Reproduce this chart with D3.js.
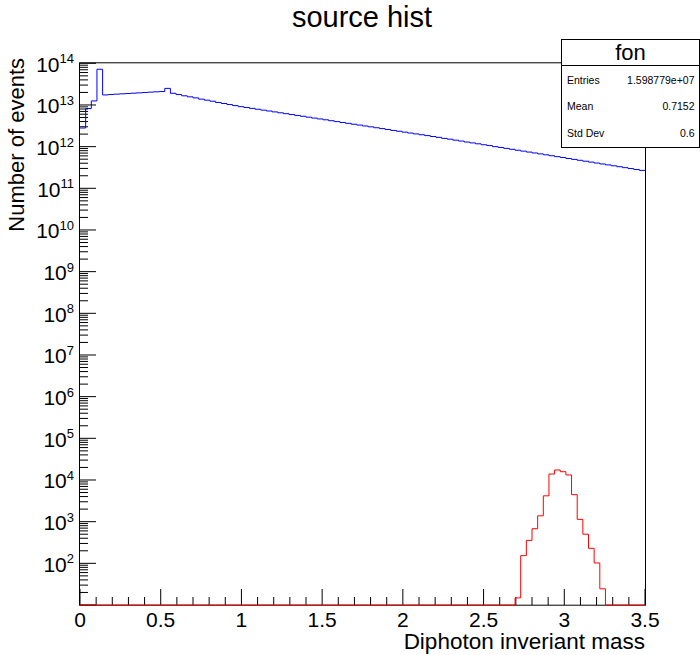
<!DOCTYPE html>
<html><head><meta charset="utf-8">
<script src="https://cdn.jsdelivr.net/npm/d3@7"></script>
<style>
body{margin:0;background:#fff}
svg{display:block}
text{font-family:"Liberation Sans",Arial,Helvetica,sans-serif;fill:#000}
</style>
</head><body>
<svg id="c" width="700" height="655"></svg>
<script>
// ---- data ----
const chartTitle = "source hist";
const xTitle = "Diphoton inveriant mass";
const yTitle = "Number of events";
const xMin = 0, xMax = 3.5, nBins = 100;
const yMin = 10, yMax = 1e14;
const blueCounts = [
  2.8e12, 8.2e12, 1.25e13, 7.2e13, 1.74e13, 1.78e13, 1.82e13, 1.85e13, 1.88e13, 1.92e13,
  1.95e13, 1.99e13, 2.03e13, 2.07e13, 2.10e13, 2.50e13, 1.905e13, 1.778e13, 1.66e13, 1.567e13,
  1.479e13, 1.38e13, 1.303e13, 1.23e13, 1.148e13, 1.084e13, 1.023e13, 9.66e12, 9.12e12, 8.69e12,
  8.28e12, 7.89e12, 7.52e12, 7.16e12, 6.82e12, 6.49e12, 6.18e12, 5.89e12, 5.61e12, 5.35e12,
  5.09e12, 4.85e12, 4.62e12, 4.41e12, 4.19e12, 3.99e12, 3.80e12, 3.62e12, 3.45e12, 3.29e12,
  3.13e12, 2.99e12, 2.84e12, 2.71e12, 2.58e12, 2.45e12, 2.34e12, 2.23e12, 2.12e12, 2.02e12,
  1.93e12, 1.84e12, 1.75e12, 1.67e12, 1.58e12, 1.51e12, 1.43e12, 1.36e12, 1.29e12, 1.23e12,
  1.17e12, 1.11e12, 1.06e12, 1.00e12, 9.55e11, 9.08e11, 8.63e11, 8.20e11, 7.80e11, 7.41e11,
  7.05e11, 6.70e11, 6.37e11, 6.05e11, 5.75e11, 5.47e11, 5.20e11, 4.94e11, 4.70e11, 4.47e11,
  4.25e11, 4.04e11, 3.84e11, 3.65e11, 3.47e11, 3.30e11, 3.13e11, 2.98e11, 2.83e11, 2.69e11
];
const redStartBin = 77;
const redCounts = [14.8, 153, 355, 676, 1380, 4170, 13900, 17400, 15800, 13200, 4440, 1135, 500, 229, 102, 24.5];
const xTickValues = [0, 0.5, 1, 1.5, 2, 2.5, 3, 3.5];
const xTickLabels = ["0", "0.5", "1", "1.5", "2", "2.5", "3", "3.5"];
const yDecadeExps = [2, 3, 4, 5, 6, 7, 8, 9, 10, 11, 12, 13, 14];
const statsName = "fon";
const statsLabels = ["Entries", "Mean", "Std Dev"];
const statsValues = ["1.598779e+07", "0.7152", "0.6"];

// ---- drawing ----
const svg = d3.select("#c");
const x = d3.scaleLinear().domain([xMin, xMax]).range([80, 645]);
const y = d3.scaleLog().domain([yMin, yMax]).range([605, 63.3]);
const bw = (xMax - xMin) / nBins;

// frame
svg.append("rect").attr("x", 79.5).attr("y", 62.8).attr("width", 566).attr("height", 542.4)
  .attr("fill", "none").attr("stroke", "#000").attr("stroke-width", 1);

// x ticks (inside, upward)
const xMinorTicks = d3.range(0, 36).map(i => i / 10);
svg.append("g").selectAll("line").data(xMinorTicks).join("line")
  .attr("x1", d => x(d)).attr("x2", d => x(d))
  .attr("y1", 605).attr("y2", d => (Math.abs(d * 2 - Math.round(d * 2)) < 1e-9) ? 589 : 597)
  .attr("stroke", "#000").attr("stroke-width", 1);
svg.append("g").selectAll("text").data(xTickValues).join("text")
  .attr("x", d => x(d)).attr("y", 626.5).attr("text-anchor", "middle")
  .attr("font-size", 21).text((d, i) => xTickLabels[i]);

// y ticks
const yTicks = [];
for (let e = 1; e <= 13; e++) {
  for (let k = 1; k <= 9; k++) yTicks.push({v: k * Math.pow(10, e), major: k === 1});
}
yTicks.push({v: 1e14, major: true});
svg.append("g").selectAll("line").data(yTicks).join("line")
  .attr("x1", 80).attr("x2", d => d.major ? 96 : 88)
  .attr("y1", d => y(d.v)).attr("y2", d => y(d.v))
  .attr("stroke", "#000").attr("stroke-width", 1);
const yl = svg.append("g").selectAll("text").data(yDecadeExps).join("text")
  .attr("x", 74).attr("y", d => y(Math.pow(10, d)) + 8.4).attr("text-anchor", "end");
yl.append("tspan").attr("font-size", 21).text("10");
yl.append("tspan").attr("font-size", 13).attr("dy", -8.4).text(d => String(d));

// histograms
function stepPoints(counts) {
  const pts = [];
  counts.forEach((v, i) => {
    const lo = xMin + i * bw, hi = lo + bw;
    const yy = y(Math.max(v, yMin));
    pts.push([x(lo), yy], [x(hi), yy]);
  });
  return pts;
}
const redFull = new Array(nBins).fill(0);
redCounts.forEach((v, i) => { redFull[redStartBin + i] = v; });
const line = d3.line();
svg.append("path").attr("d", line(stepPoints(redFull)))
  .attr("fill", "none").attr("stroke", "#ff0000").attr("stroke-width", 1);
svg.append("path").attr("d", line(stepPoints(blueCounts)))
  .attr("fill", "none").attr("stroke", "#0000ff").attr("stroke-width", 1);

// titles
svg.append("text").attr("x", 362).attr("y", 27).attr("text-anchor", "middle")
  .attr("font-size", 29).text(chartTitle);
svg.append("text").attr("x", 645).attr("y", 649).attr("text-anchor", "end")
  .attr("font-size", 22.5).text(xTitle);
svg.append("text").attr("transform", "translate(24,58) rotate(-90)")
  .attr("text-anchor", "end").attr("font-size", 22).text(yTitle);

// stats box
const sb = svg.append("g");
sb.append("rect").attr("x", 561.5).attr("y", 39.5).attr("width", 138).attr("height", 108)
  .attr("fill", "#fff").attr("stroke", "#000").attr("stroke-width", 1);
sb.append("line").attr("x1", 561.5).attr("x2", 699.5).attr("y1", 65.5).attr("y2", 65.5)
  .attr("stroke", "#000").attr("stroke-width", 1);
sb.append("text").attr("x", 630.5).attr("y", 60).attr("text-anchor", "middle")
  .attr("font-size", 22).text(statsName);
const rowY = [84, 110.3, 136.7];
sb.selectAll("text.lab").data(statsLabels).join("text").attr("class", "lab")
  .attr("x", 567).attr("y", (d, i) => rowY[i]).attr("font-size", 10.5).text(d => d);
sb.selectAll("text.val").data(statsValues).join("text").attr("class", "val")
  .attr("x", 694.5).attr("y", (d, i) => rowY[i]).attr("text-anchor", "end")
  .attr("font-size", 10.5).text(d => d);
</script>
</body></html>
